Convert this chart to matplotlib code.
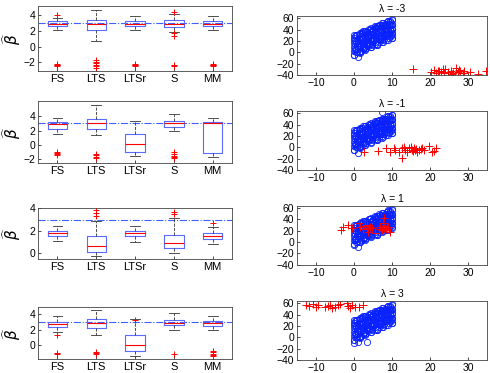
import numpy as np
import matplotlib.pyplot as plt

plt.rcParams['font.family'] = ['Liberation Sans', 'DejaVu Sans']
plt.rcParams['font.size'] = 7.5

methods = ['FS', 'LTS', 'LTSr', 'S', 'MM']
lambdas = ['-3', '-1', '1', '3']
beta_true = 3

# boxplot summaries, one row per lambda, one entry per method
whislo = [[2.15, 0.77, 2.15, 1.85, 2.15], [1.5, 1.4, -1.5, 1.9, -1.7],
          [1.11, -0.3, 1.0, 0.0, 0.84], [1.72, 1.29, -1.42, 1.93, 2.02]]
q1 = [[2.6, 2.15, 2.6, 2.5, 2.58], [2.17, 2.17, -1.0, 2.53, -1.15],
      [1.56, 0.06, 1.56, 0.45, 1.26], [2.36, 2.27, -0.73, 2.66, 2.45]]
med = [[2.92, 2.83, 2.92, 2.92, 2.92], [2.9, 3.0, 0.1, 3.0, 3.0],
       [1.8, 0.6, 1.77, 0.9, 1.56], [2.8, 2.88, -0.04, 2.92, 2.88]]
q3 = [[3.2, 3.43, 3.2, 3.35, 3.2], [3.13, 3.6, 1.47, 3.27, 3.2],
      [2.0, 1.5, 1.95, 1.65, 1.8], [3.0, 3.35, 1.29, 3.3, 3.13]]
whishi = [[3.6, 4.6, 3.9, 4.2, 3.9], [3.8, 5.5, 3.36, 4.3, 3.8],
          [2.46, 2.85, 2.46, 3.1, 2.34], [3.78, 4.6, 3.43, 4.16, 3.78]]
fliers = [
    [[4.0, -2.2, -2.3, -2.4, -2.5], [-1.7, -1.9, -2.1, -2.3, -2.5, -2.7],
     [-2.2, -2.3, -2.4, -2.5], [4.4, 1.7, 1.4, -2.3, -2.5], [-2.2, -2.3, -2.4, -2.5]],
    [[-1.0, -1.15, -1.25, -1.4], [-1.3, -1.45, -1.6, -1.8], [],
     [-1.0, -1.3, -1.5, -1.7, -1.8], []],
    [[], [3.3, 3.6, 3.9], [], [3.5, 3.7], [2.7]],
    [[1.37, -1.0, -1.16], [-0.9, -1.05, -1.16], [3.3], [-1.16],
     [-0.73, -0.9, -1.1, -1.25, -1.42]],
]
box_ylim = [(-3.1, 5.15), (-2.5, 6.1), (-0.55, 4.05), (-1.8, 4.95)]
box_yticks = [[-2, 0, 2, 4], [-2, 0, 2, 4], [0, 2, 4], [0, 2, 4]]

# clean data (same cloud in every panel)
bx = [0.1, 0.2, 0.3, 0.1, 0.4, 0.6, 0.8, 0.5, 0.9, 0.2, 0.7, 0.0,
      1.1, 1.3, 1.2, 1.5, 1.4, 1.7, 1.9, 1.6, 1.8, 1.0, 1.5, 1.0,
      2.1, 2.3, 2.2, 2.5, 2.4, 2.7, 2.9, 2.6, 2.8, 2.0, 2.4, 2.6,
      3.1, 3.3, 3.2, 3.5, 3.4, 3.7, 3.9, 3.6, 3.8, 3.0, 3.3, 3.6,
      4.1, 4.3, 4.2, 4.5, 4.4, 4.7, 4.9, 4.6, 4.8, 4.0, 4.4, 4.7,
      5.1, 5.3, 5.2, 5.5, 5.4, 5.7, 5.9, 5.6, 5.8, 5.0, 5.3, 5.6,
      6.1, 6.3, 6.2, 6.5, 6.4, 6.7, 6.9, 6.6, 6.8, 6.0, 6.3, 6.6,
      7.1, 7.3, 7.2, 7.5, 7.4, 7.7, 7.9, 7.6, 7.8, 7.0, 7.3,
      8.1, 8.3, 8.2, 8.5, 8.4, 8.7, 8.9, 8.6, 8.8, 8.0, 8.4, 8.7,
      9.1, 9.3, 9.2, 9.5, 9.4, 9.7, 9.9, 9.6, 9.8, 9.0, 9.9, 10.0, 10.0, 9.95,
      0.05, 0.0, 0.1, 0.0, 0.05, 10.0, 9.95, 10.0, 9.9, 10.0,
      1.5, 3.0, 4.5, 6.0, 7.5, 9.0, 1.5, 3.0, 4.5, 6.0, 7.5, 9.0, 0.5, 2.2,
      0.35, 0.75, 1.25, 1.65, 2.15, 2.55, 3.05, 3.45, 3.85, 4.25, 4.65, 5.05,
      5.45, 5.85, 6.25, 6.65, 7.05, 7.45, 7.85, 8.25, 8.65, 9.05, 9.45, 9.85,
      0.45, 0.95, 1.45, 1.95, 2.45, 2.95, 3.45, 3.95, 4.45, 4.95,
      5.45, 5.95, 6.45, 6.95, 7.45, 7.95, 8.45, 8.95, 9.45, 9.75]
by = [-4, 7, 15, 22, 29, 1, 11, 20, 30, 4, 14, 25,
      5, 24, 1, 16, 30, 12, 22, 0, 29, 16, 33, -9,
      16, 5, 34, 12, 24, 31, 5, 16, 21, 26, 37, 9,
      24, 35, 7, 17, 31, 22, 40, 11, 29, 18, 12, 25,
      15, 32, 40, 10, 25, 38, 22, 30, 13, 41, 22, 35,
      37, 21, 30, 14, 44, 27, 37, 18, 43, 23, 33, 47,
      13, 32, 43, 26, 37, 49, 23, 31, 41, 34, 46, 18,
      30, 48, 23, 38, 44, 19, 36, 51, 28, 40, 21,
      41, 28, 50, 36, 22, 46, 56, 33, 40, 24, 48, 53,
      33, 50, 26, 42, 55, 31, 48, 54, 38, 42, 26, 58, 34, 42,
      -5, 3, 10, 17, 30, 25, 33, 41, 50, 57,
      -0.5, 4, 8.5, 13, 17.5, 22, 34, 38, 43, 47, 51, 55, 31, 35,
      21, 0, 12, 32, 24, 8, 35, 14, 27, 36, 15, 26,
      41, 24, 39, 23, 35, 46, 33, 43, 28, 39, 49, 29,
      6, 20, 26, 3, 17, 37, 29, 14, 20, 41,
      29, 14, 28, 48, 26, 40, 50, 33, 39, 48]
extra_bx = [[], [7.5], [], [0.0, 3.5]]
extra_by = [[], [63], [], [-10, -8]]

# contaminated observations per lambda
red_x = [
    [15.6, 20.2, 21.1, 21.5, 22.4, 23.3, 23.7, 24.6, 25.5, 25.9, 26.8, 27.3, 27.7,
     28.6, 29.0, 30.4, 32.6, 34.8, 22.0, 24.0, 26.0, 28.0, 23.0, 29.0],
    [2.7, 6.3, 8.5, 9.6, 10.4, 10.9, 11.8, 12.7, 13.1, 13.5, 14.0, 14.4, 14.9,
     15.3, 15.8, 16.2, 16.6, 17.1, 18.0, 18.4, 19.7, 20.6, 21.5, 12.7, 16.0, 15.5, 17.5, 21.0],
    [-3.3, -2.8, -1.5, -0.6, 1.6, 2.5, 2.9, 3.4, 3.8, 4.2, 5.6, 6.5, 6.9, 7.3,
     7.8, 8.2, 8.7, 9.6, 3.4, 4.7, 1.2, 7.6, 8.0, 7.5, 8.5, 9.0],
    [-16.1, -12.6, -11.7, -10.8, -9.9, -9.5, -7.7, -6.8, -6.4, -5.9, -5.0, -4.2,
     -3.7, -1.9, -1.5, -1.1, -0.6, 0.3, 1.2, 2.5],
]
red_y = [
    [-29.4, -34.1, -31.2, -35.9, -32.9, -30.0, -37.0, -34.0, -32.4, -38.0, -28.2, -34.0,
     -31.2, -35.9, -32.4, -34.0, -38.0, -32.4, -33.0, -29.0, -36.0, -33.0, -35.0, -36.0],
    [-8.8, -6.5, -0.6, -8.8, -0.6, -4.7, -7.6, -1.8, 0.0, -4.7, -7.6, -1.8, 1.2,
     -4.7, -0.6, -2.9, -7.6, -4.7, -1.8, -4.7, 3.0, -7.6, -1.8, -18.2, -4.0, -6.0, -3.0, -6.0],
    [21.8, 27.6, 30.6, 24.7, 27.6, 22.9, 28.8, 24.7, 18.8, 26.5, 15.9, 22.9, 26.5, 21.8,
     42.4, 24.7, 27.6, 18.8, 30.6, 24.7, 33.5, 33.5, 25.0, 24.0, 23.0, 26.0],
    [60.0, 57.0, 55.3, 58.8, 54.1, 57.0, 52.9, 55.3, 57.0, 51.2, 54.1, 57.0,
     58.8, 60.0, 55.3, 51.2, 57.0, 54.1, 52.9, 57.0],
]

left_pos = [(0.0776, 0.8097, 0.396, 0.174), (0.0776, 0.563, 0.396, 0.166),
            (0.0776, 0.3056, 0.396, 0.137), (0.0776, 0.0375, 0.396, 0.139)]
right_pos = [(0.606, 0.799, 0.388, 0.158), (0.606, 0.544, 0.388, 0.158),
             (0.606, 0.290, 0.388, 0.158), (0.606, 0.035, 0.388, 0.158)]

fig = plt.figure(figsize=(4.9, 3.73), dpi=100)

for i in range(4):
    ax = fig.add_axes(left_pos[i])
    stats = []
    for j in range(5):
        stats.append(dict(med=med[i][j], q1=q1[i][j], q3=q3[i][j],
                          whislo=whislo[i][j], whishi=whishi[i][j],
                          fliers=fliers[i][j]))
    ax.axhline(beta_true, color='#4060ff', ls='-.', lw=0.8, zorder=0)
    ax.bxp(stats, positions=range(1, 6), widths=0.5,
           boxprops=dict(color='#5a6cff', lw=0.8),
           medianprops=dict(color='red', lw=0.8),
           whiskerprops=dict(color='#333333', ls='--', lw=0.6),
           capprops=dict(color='#333333', lw=0.6),
           flierprops=dict(marker='+', markeredgecolor='red', markersize=5,
                           markeredgewidth=0.7, linestyle='none'))
    ax.set_xlim(0.5, 5.5)
    ax.set_ylim(*box_ylim[i])
    ax.set_yticks(box_yticks[i])
    ax.set_xticks(range(1, 6))
    ax.set_xticklabels(methods, fontsize=8)
    ax.set_ylabel(r'$\widehat{\beta}$', fontsize=11)
    ax.yaxis.set_label_coords(-0.08, 0.5)
    ax.tick_params(direction='in', length=2.5, width=0.5, pad=2)
    for s in ax.spines.values():
        s.set_linewidth(0.6)
        s.set_color('#444444')

    ax2 = fig.add_axes(right_pos[i])
    ax2.plot(bx + extra_bx[i], by + extra_by[i], 'o', mfc='none', mec='#0a22ff',
             ms=4.5, mew=0.6)
    ax2.plot(red_x[i], red_y[i], '+', color='red', ms=6, mew=0.7)
    ax2.set_xlim(-15, 35)
    ax2.set_ylim(-40, 64)
    ax2.set_xticks([-10, 0, 10, 20, 30])
    ax2.set_yticks([-40, -20, 0, 20, 40, 60])
    ax2.set_title('λ = ' + lambdas[i], fontsize=7.5, pad=3)
    ax2.tick_params(direction='in', length=2.5, width=0.5, pad=2)
    for s in ax2.spines.values():
        s.set_linewidth(0.6)
        s.set_color('#444444')

fig.savefig('out.png', dpi=100)
